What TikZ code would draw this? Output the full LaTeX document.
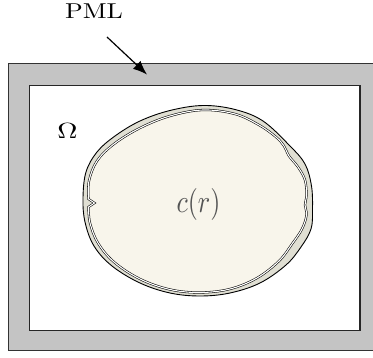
\documentclass[tikz,border=0pt]{standalone}
\usetikzlibrary{arrows.meta}
\definecolor{pmlgray}{HTML}{C4C4C4}
\definecolor{shellcol}{HTML}{E0DFD3}
\definecolor{creamcol}{HTML}{F8F5EB}
\definecolor{labgray}{HTML}{555555}
\tikzset{
  pmlbox/.style={draw=black!80, line width=1pt, fill=pmlgray},
  domainbox/.style={draw=black!85, line width=1.2pt, fill=white},
  shell/.style={draw=black, line width=0.9pt, fill=shellcol},
  inner/.style={draw=black, line width=0.55pt, double=white, double distance=1.1pt, fill=creamcol},
  lab/.style={inner sep=0pt, font=\normalsize}
}
\begin{document}
\begin{tikzpicture}[x=1pt,y=-1pt]
\useasboundingbox (0,0) rectangle (373,358);
% PML frame
\path[pmlbox] (8,64) rectangle (382,351);
\path[domainbox] (29.5,85.5) rectangle (360,330.5);
% outer shell of the scatterer
\path[shell] plot[smooth cycle, tension=0.6] coordinates {
  (203,105.5) (235,109.5) (263,121) (290,146) (305,164) (311.5,186) (312.5,210)
  (311,229) (301,247) (286,265) (260,283) (230,293) (200,296) (170,293)
  (140,283) (112,266) (94,246) (85,222) (83,198) (86,172) (97,152)
  (115,136) (140,121) (170,110.5)};
% inner region with double boundary
\path[inner] plot[smooth, tension=0.6] coordinates {
  (88.5,199) (89,181) (97,161) (114,144) (140,128) (170,116) (203,110)
  (235,114) (259,125) (276,137) (284,146) (289,156) (298,167) (305,180)
  (306.5,195) (305,205) (306.5,215) (302,229) (292,244) (279,261) (257,278)
  (230,289) (200,292.5) (170,289.5) (140,279) (114,262) (98,243)
  (90,223) (88.5,207)} -- (94.5,203) -- cycle;
% labels
\node[lab] (pml) at (94,11) {\scalebox{2.6}[2.15]{PML}};
\node[lab] (omega) at (67.5,131) {\scalebox{2.8}[2.2]{$\Omega$}};
\node[lab, text=labgray] (cr) at (198.5,205) {\scalebox{2.6}[3.2]{$c(r)$}};
% arrow
\coordinate (arrs) at (107,37);
\coordinate (arre) at (147,74.5);
\draw[line width=1.2pt, -{Latex[length=14pt,width=11pt]}] (arrs) -- (arre);
\end{tikzpicture}
\end{document}
